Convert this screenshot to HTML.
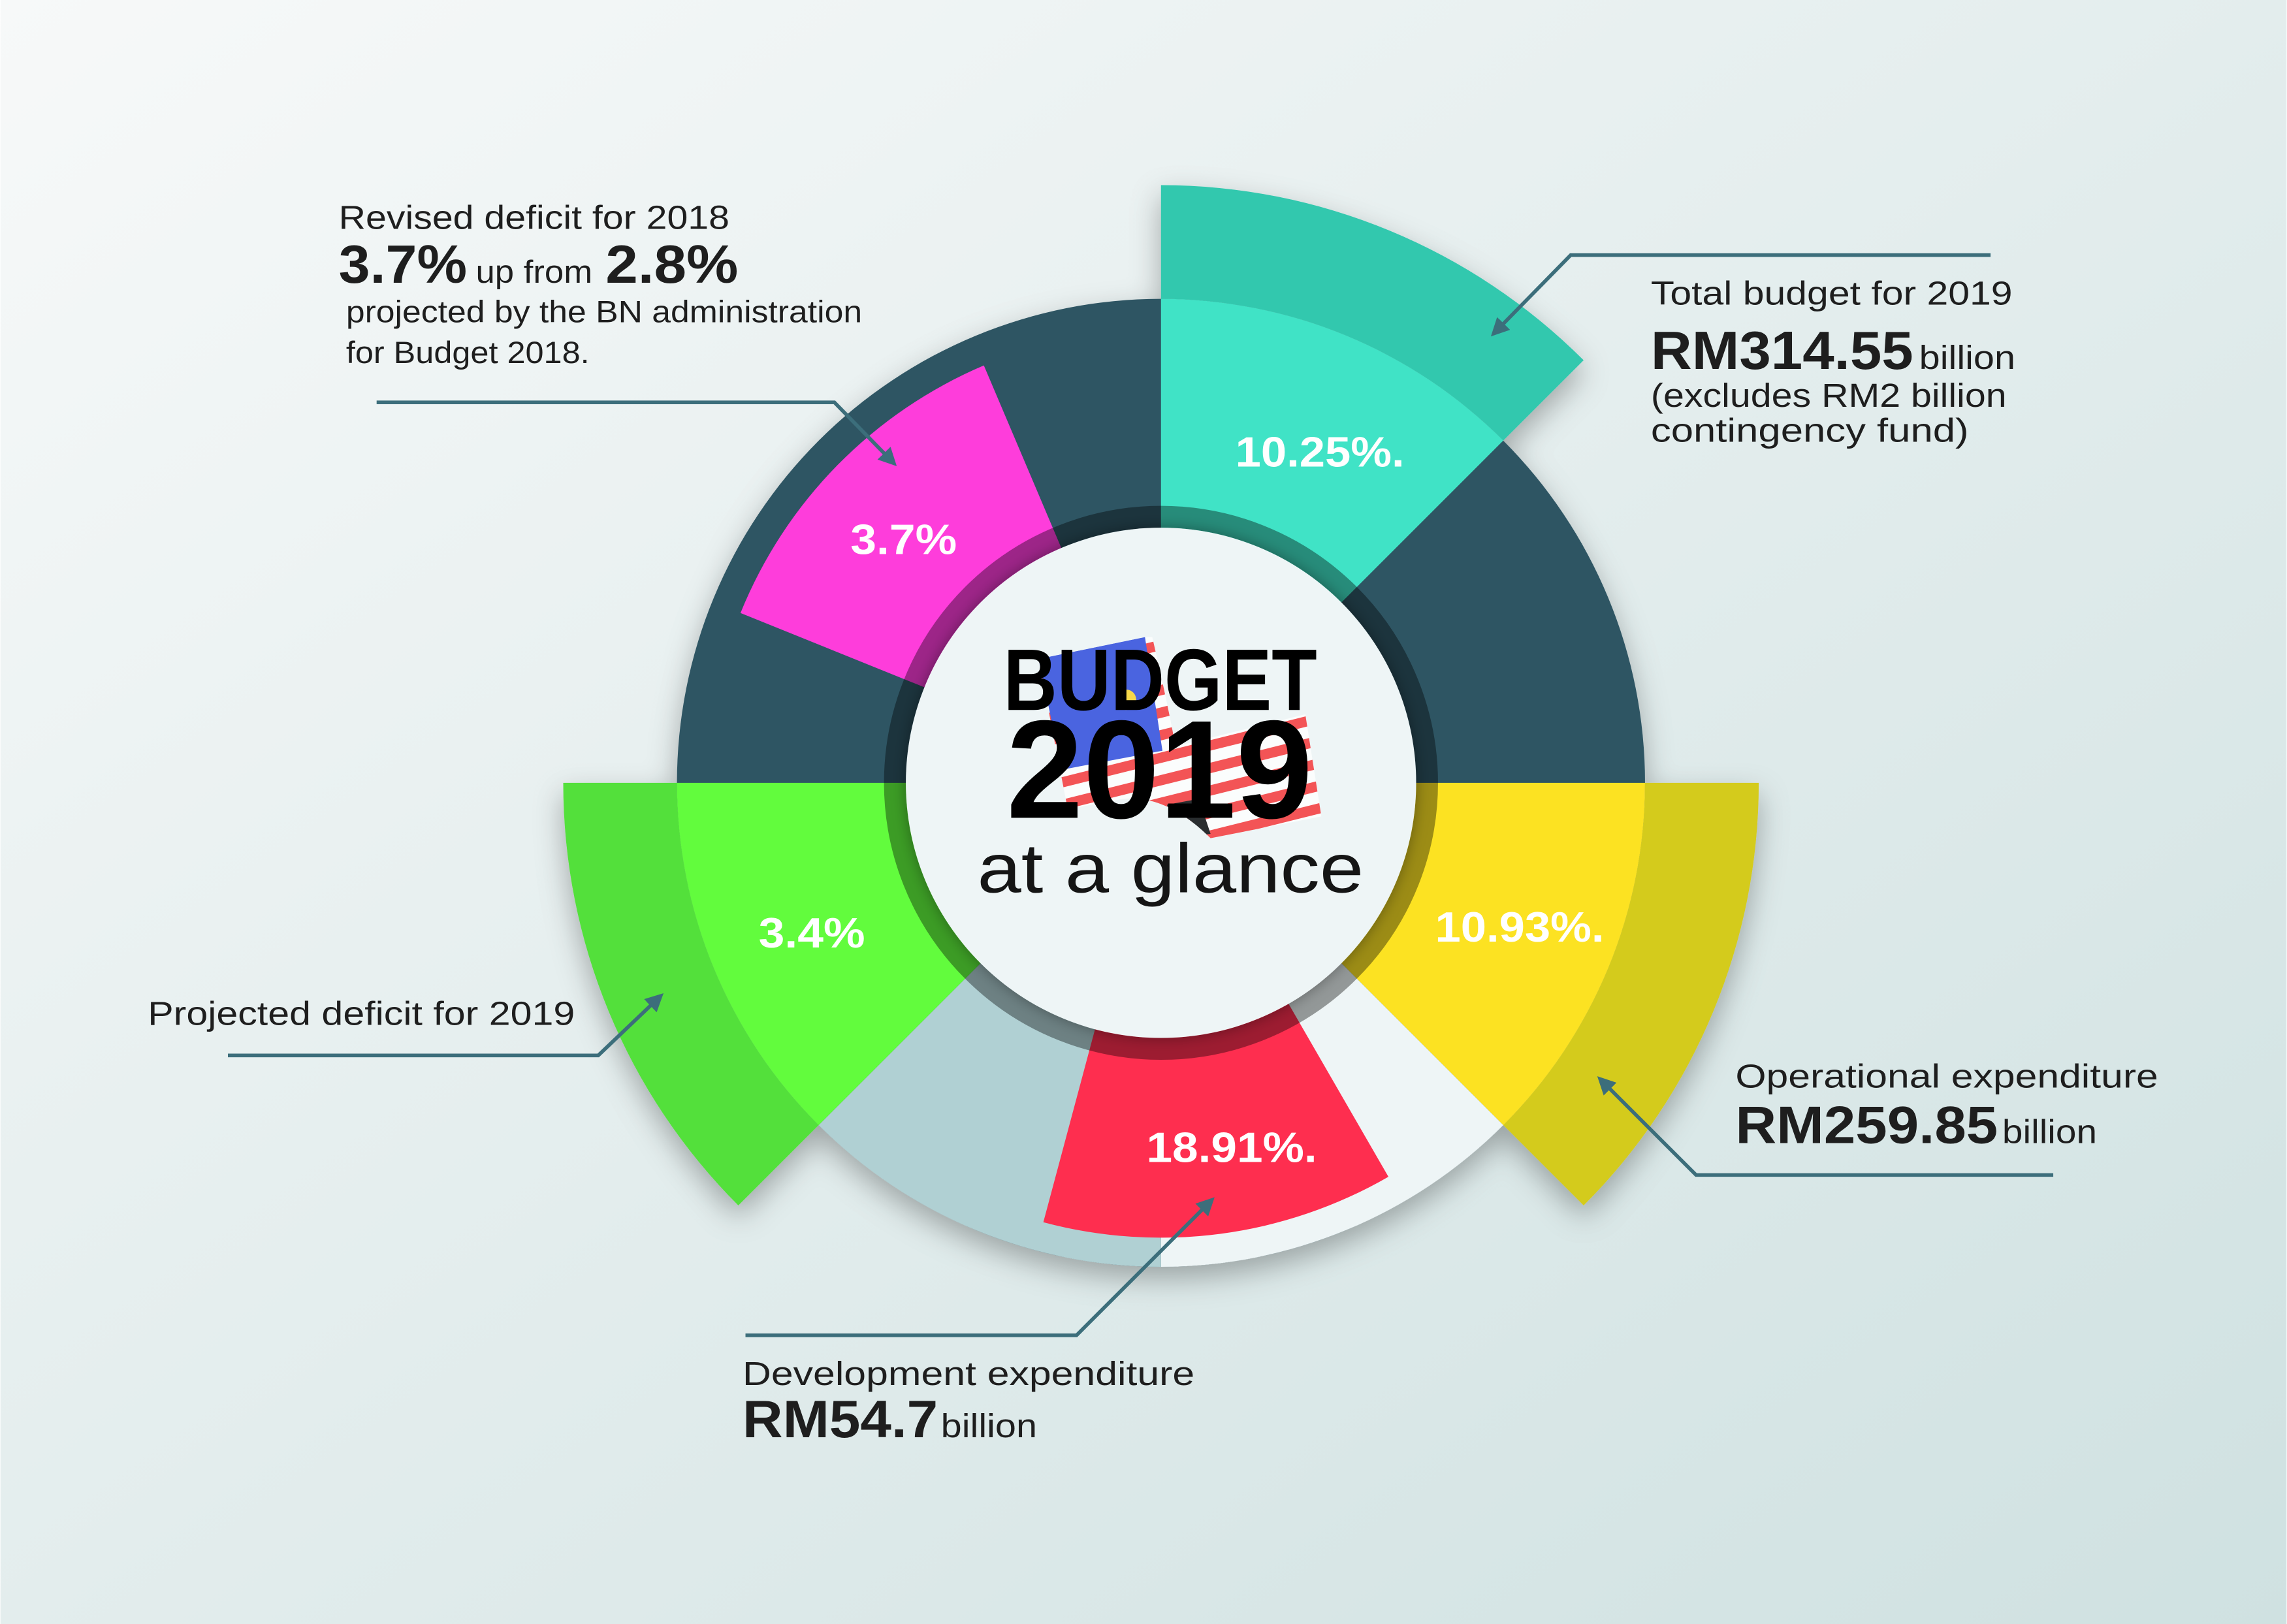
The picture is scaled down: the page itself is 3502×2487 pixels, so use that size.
<!DOCTYPE html>
<html><head><meta charset="utf-8"><style>
html,body{margin:0;padding:0;width:3502px;height:2487px;overflow:hidden}
svg{display:block}
text{font-family:"Liberation Sans",sans-serif}
</style></head><body>
<svg width="3502" height="2487" viewBox="0 0 1568 1114" xmlns="http://www.w3.org/2000/svg">
<defs>
<linearGradient id="bg" x1="0" y1="0" x2="1" y2="1">
<stop offset="0" stop-color="#f7f9f9"/><stop offset="1" stop-color="#cfe1e1"/>
</linearGradient>
<filter id="sh" x="-20%" y="-20%" width="140%" height="140%"><feDropShadow dx="0" dy="8" stdDeviation="10" flood-color="#000" flood-opacity="0.3"/></filter>
<filter id="sh2" x="-20%" y="-20%" width="140%" height="140%"><feDropShadow dx="0" dy="0" stdDeviation="5" flood-color="#000" flood-opacity="0.35"/></filter>
<marker id="ar" viewBox="0 0 10 10" refX="8" refY="5" markerWidth="5" markerHeight="5" orient="auto"><path d="M0,0 L10,5 L0,10 Z" fill="#3c6e7b"/></marker>
<clipPath id="fc"><path d="M712,452 L785,437 L790,437 Q800,480 806,512 L895,490 L906,560 L830,575 Q800,545 770,548 L732,555 Z"/></clipPath>
</defs>
<rect width="1568" height="1114" fill="url(#bg)"/>
<g filter="url(#sh)">
<circle cx="796" cy="537" r="332" fill="#2f5563"/>
<path d="M796,127 A410,410 0 0 1 1085.9,247.1 L1030.8,302.2 A332,332 0 0 0 796,205 Z" fill="#33c8ae"/>
<path d="M796,537 L796,205 A332,332 0 0 1 1030.8,302.2 Z" fill="#40e3c6"/>
<path d="M1206,537 A410,410 0 0 1 1085.9,826.9 L1030.8,771.8 A332,332 0 0 0 1128,537 Z" fill="#d4cb1c"/>
<path d="M796,537 L1128,537 A332,332 0 0 1 1030.8,771.8 Z" fill="#fce220"/>
<path d="M796,537 L1030.8,771.8 A332,332 0 0 1 796,869 Z" fill="#eef5f6"/>
<path d="M796,537 L796,869 A332,332 0 0 1 561.2,771.8 Z" fill="#b0d0d3"/>
<path d="M506.1,826.9 A410,410 0 0 1 386,537 L464,537 A332,332 0 0 0 561.2,771.8 Z" fill="#52e03a"/>
<path d="M796,537 L561.2,771.8 A332,332 0 0 1 464,537 Z" fill="#62fc3c"/>
<path d="M796,537 L952,807.2 A312,312 0 0 1 715.3,838.4 Z" fill="#fe2d4f"/>
<path d="M796,537 L507.6,420.5 A311,311 0 0 1 674.5,250.7 Z" fill="#fe3edb"/>
</g>
<circle cx="796" cy="537" r="182.5" fill="none" stroke="#000" stroke-opacity="0.38" stroke-width="15"/>
<circle cx="796" cy="537" r="175" fill="#eef5f6" filter="url(#sh2)"/>
<g clip-path="url(#fc)">
<rect x="690" y="420" width="230" height="170" fill="#fbfdfd"/>
<g fill="#f35456" transform="rotate(-14 800 510)">
<rect x="660" y="440" width="280" height="7"/><rect x="660" y="455" width="280" height="7"/><rect x="660" y="470" width="280" height="7"/><rect x="660" y="485" width="280" height="7"/><rect x="660" y="500" width="280" height="7"/><rect x="660" y="515" width="280" height="7"/><rect x="660" y="530" width="280" height="7"/><rect x="660" y="545" width="280" height="7"/><rect x="660" y="560" width="280" height="7"/><rect x="660" y="575" width="280" height="7"/><rect x="660" y="590" width="280" height="7"/>
</g>
<path d="M712,452 L785,437 L797,515 L728,528 Z" fill="#4a64e0"/>
<path d="M745,468 A16,16 0 1 0 752,502 A13,13 0 1 1 745,468 Z" fill="#f6d84a"/>
<circle cx="772" cy="480" r="7" fill="#f6d84a"/>
<path d="M800,552 L822,548 L830,572 L808,575 Z" fill="#2a2e30"/>
</g>
<text x="688" y="487" font-size="60" font-weight="bold" fill="#000" textLength="215" lengthAdjust="spacingAndGlyphs">BUDGET</text>
<text x="690" y="561" font-size="96" font-weight="bold" fill="#000" textLength="210" lengthAdjust="spacingAndGlyphs">2019</text>
<text x="670" y="612" font-size="48" fill="#151515" textLength="265" lengthAdjust="spacingAndGlyphs">at a glance</text>
<g fill="#fff" font-weight="bold" font-size="29">
<text x="847" y="320" textLength="116" lengthAdjust="spacingAndGlyphs">10.25%.</text>
<text x="583" y="380" textLength="73" lengthAdjust="spacingAndGlyphs">3.7%</text>
<text x="520" y="650" textLength="73" lengthAdjust="spacingAndGlyphs">3.4%</text>
<text x="984" y="646" textLength="116" lengthAdjust="spacingAndGlyphs">10.93%.</text>
<text x="786" y="797" textLength="117" lengthAdjust="spacingAndGlyphs">18.91%.</text>
</g>
<g fill="none" stroke="#3c6e7b" stroke-width="2.5" marker-end="url(#ar)">
<path d="M258,276 L572,276 L613,318"/>
<path d="M1365,175 L1077,175 L1024,229"/>
<path d="M1408,806 L1163,806 L1097,740"/>
<path d="M511,916 L738,916 L831,823"/>
<path d="M156,724 L410,724 L453,683"/>
</g>
<g fill="#1e1e1e">
<text x="232" y="157" font-size="23" textLength="268" lengthAdjust="spacingAndGlyphs">Revised deficit for 2018</text>
<text x="232" y="194" font-size="37" font-weight="bold" textLength="88" lengthAdjust="spacingAndGlyphs">3.7%</text>
<text x="326" y="194" font-size="22" textLength="80" lengthAdjust="spacingAndGlyphs">up from</text>
<text x="415" y="194" font-size="37" font-weight="bold" textLength="91" lengthAdjust="spacingAndGlyphs">2.8%</text>
<text x="237" y="221" font-size="21" textLength="354" lengthAdjust="spacingAndGlyphs">projected by the BN administration</text>
<text x="237" y="249" font-size="21" textLength="167" lengthAdjust="spacingAndGlyphs">for Budget 2018.</text>
<text x="1132" y="209" font-size="23" textLength="248" lengthAdjust="spacingAndGlyphs">Total budget for 2019</text>
<text x="1132" y="253" font-size="37" font-weight="bold" textLength="180" lengthAdjust="spacingAndGlyphs">RM314.55</text>
<text x="1316" y="253" font-size="23" textLength="66" lengthAdjust="spacingAndGlyphs">billion</text>
<text x="1132" y="279" font-size="23" textLength="244" lengthAdjust="spacingAndGlyphs">(excludes RM2 billion</text>
<text x="1132" y="303" font-size="23" textLength="218" lengthAdjust="spacingAndGlyphs">contingency fund)</text>
<text x="1190" y="746" font-size="23" textLength="290" lengthAdjust="spacingAndGlyphs">Operational expenditure</text>
<text x="1190" y="784" font-size="36" font-weight="bold" textLength="180" lengthAdjust="spacingAndGlyphs">RM259.85</text>
<text x="1373" y="784" font-size="23" textLength="65" lengthAdjust="spacingAndGlyphs">billion</text>
<text x="509" y="950" font-size="23" textLength="310" lengthAdjust="spacingAndGlyphs">Development expenditure</text>
<text x="509" y="986" font-size="36" font-weight="bold" textLength="134" lengthAdjust="spacingAndGlyphs">RM54.7</text>
<text x="645" y="986" font-size="23" textLength="66" lengthAdjust="spacingAndGlyphs">billion</text>
<text x="101" y="703" font-size="23" textLength="293" lengthAdjust="spacingAndGlyphs">Projected deficit for 2019</text>
</g>
</svg>
</body></html>
